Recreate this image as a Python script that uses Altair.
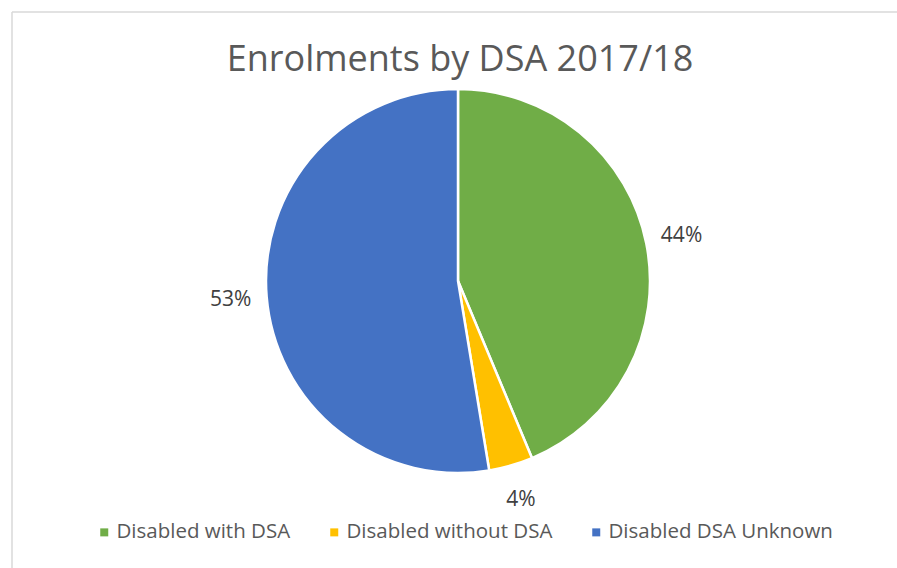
import altair as alt
import pandas as pd

categories = ["Disabled with DSA", "Disabled without DSA", "Disabled DSA Unknown"]
values = [43.7, 3.7, 52.6]
colors = ["#70AD47", "#FFC000", "#4472C4"]
title_text = "Enrolments by DSA 2017/18"

df = pd.DataFrame({"category": categories, "value": values, "rank": list(range(len(categories)))})

FONT = "Open Sans"
CX, CY, R = 458, 281, 192

color_enc = alt.Color(
    "category:N",
    scale=alt.Scale(domain=categories, range=colors),
    sort=categories,
    legend=alt.Legend(
        title=None,
        orient="none",
        direction="horizontal",
        columns=3,
        legendX=94,
        legendY=522,
        symbolType="square",
        symbolSize=64,
        symbolStrokeWidth=0,
        labelFont=FONT,
        labelFontSize=20.5,
        labelColor="#595959",
        labelOffset=2,
        labelLimit=0,
        columnPadding=33,
    ),
)

base = alt.Chart(df).transform_joinaggregate(total="sum(value)").transform_calculate(
    frac="datum.value / datum.total"
)

pie = base.mark_arc(outerRadius=R, stroke="white", strokeWidth=2.5).encode(
    theta=alt.Theta("value:Q", stack=True),
    color=color_enc,
    order=alt.Order("rank:Q"),
    x=alt.value(CX),
    y=alt.value(CY),
)

labels = base.mark_text(radius=228, font=FONT, fontSize=21, color="#404040").encode(
    theta=alt.Theta("value:Q", stack=True),
    order=alt.Order("rank:Q"),
    text=alt.Text("frac:Q", format=".0%"),
    x=alt.value(CX),
    y=alt.value(CY),
)

title = alt.Chart(pd.DataFrame({"t": [title_text]})).mark_text(
    font=FONT, fontSize=36, color="#595959", baseline="alphabetic", align="center"
).encode(text="t:N", x=alt.value(460), y=alt.value(71))

border = alt.Chart(pd.DataFrame({"a": [0]})).mark_rule(color="#d9d9d9", strokeWidth=1.5).encode(
    x=alt.value(12), x2=alt.value(12), y=alt.value(12), y2=alt.value(600)
)
border_top = alt.Chart(pd.DataFrame({"a": [0]})).mark_rule(color="#d9d9d9", strokeWidth=1.5).encode(
    x=alt.value(12), x2=alt.value(900), y=alt.value(12), y2=alt.value(12)
)

chart = alt.layer(border, border_top, pie, labels, title).properties(
    width=897,
    height=568,
    padding=0,
    autosize=alt.AutoSizeParams(type="none"),
    background="white",
).configure_view(stroke=None)

chart.save("out.html", embed_options={"renderer": "svg", "actions": False})
